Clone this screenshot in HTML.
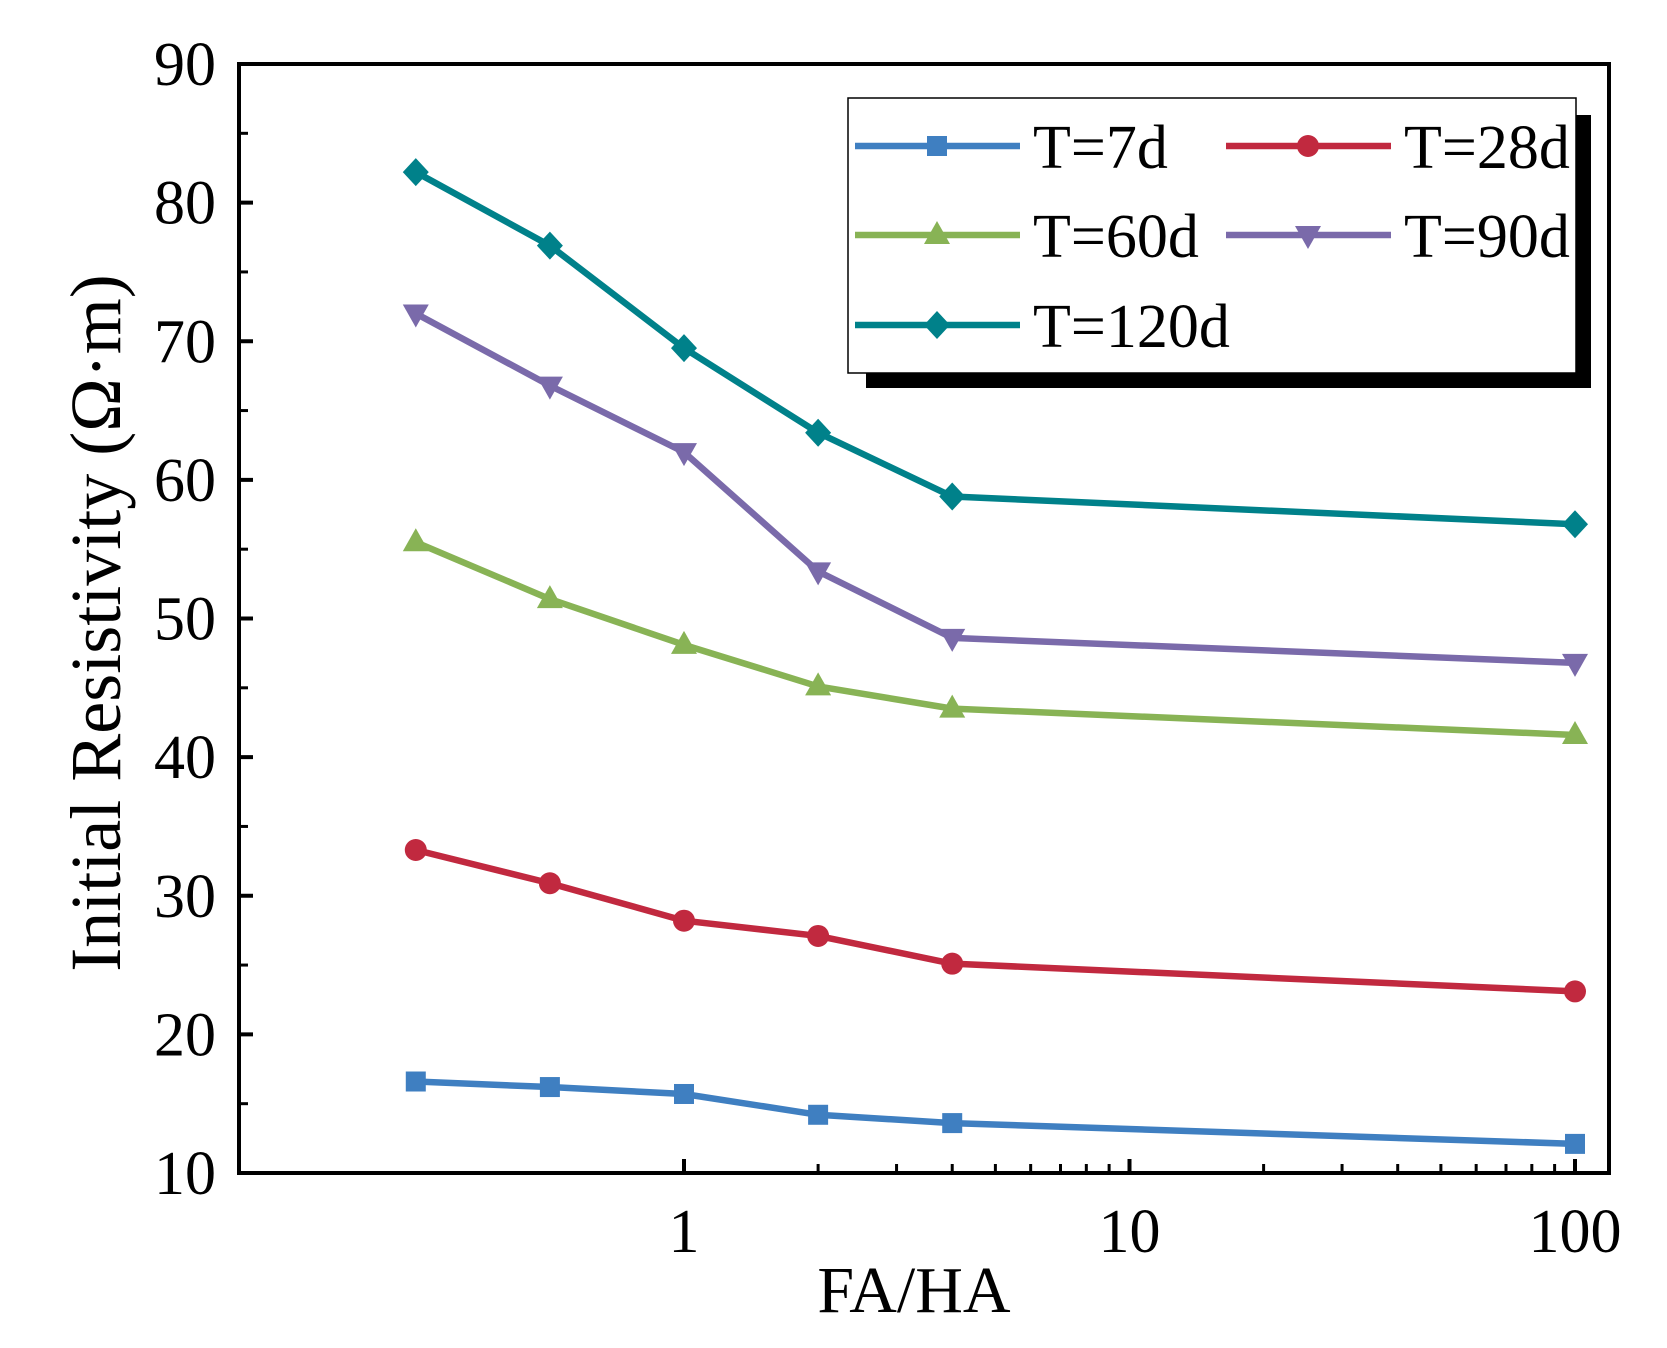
<!DOCTYPE html>
<html><head><meta charset="utf-8"><style>
html,body{margin:0;padding:0;background:#fff;}
svg{display:block;font-family:"Liberation Serif","DejaVu Serif",serif;}
</style></head><body>
<svg id="chart" width="1667" height="1348" viewBox="0 0 1667 1348" xmlns="http://www.w3.org/2000/svg">
<g id="series"></g>
<g id="axes"></g>
<g id="legend"></g>
</svg>
<script>
const categories=[0.25,0.5,1,2,4,100];
const seriesNames=["T=7d","T=28d","T=60d","T=90d","T=120d"];
const s7=[16.6,16.2,15.7,14.2,13.6,12.1];
const s28=[33.3,30.9,28.2,27.1,25.1,23.1];
const s60=[55.5,51.4,48.1,45.1,43.5,41.6];
const s90=[72.0,66.8,62.0,53.4,48.6,46.8];
const s120=[82.2,76.9,69.5,63.4,58.8,56.8];
const yTicks=[10,20,30,40,50,60,70,80,90];
const xTicks=[1,10,100];
const xTickLabels=["1","10","100"];

const NS="http://www.w3.org/2000/svg";
const L=239,R=1609,T=64,B=1173;
function xs(v){return 684+Math.log10(v)*445.5;}
function ys(v){return B-(v-10)/80*(B-T);}
function mk(tag,attrs,parent){const e=document.createElementNS(NS,tag);for(const k in attrs)e.setAttribute(k,attrs[k]);parent.appendChild(e);return e;}
const gS=document.getElementById('series'),gA=document.getElementById('axes'),gL=document.getElementById('legend');
const colors=["#3f7fc1","#c1293f","#88b355","#7a6aaa","#00818a"];
const shapes=["square","circle","tri","tridown","diamond"];
const allData=[s7,s28,s60,s90,s120];
function marker(shape,x,y,c,parent){
  let e;
  if(shape==="square"){e=mk('rect',{x:x-10,y:y-10,width:20,height:20,fill:c},parent);}
  else if(shape==="circle"){e=mk('circle',{cx:x,cy:y,r:11,fill:c},parent);}
  else if(shape==="tri"){e=mk('polygon',{points:`${x},${y-14} ${x+13},${y+9} ${x-13},${y+9}`,fill:c},parent);}
  else if(shape==="tridown"){e=mk('polygon',{points:`${x},${y+14} ${x+13},${y-9} ${x-13},${y-9}`,fill:c},parent);}
  else {e=mk('polygon',{points:`${x},${y-14} ${x+13},${y} ${x},${y+14} ${x-13},${y}`,fill:c},parent);}
  return e;
}
allData.forEach((d,i)=>{
  const g=mk('g',{},gS);
  
  
  const pts=d.map((v,j)=>xs(categories[j])+','+ys(v)).join(' ');
  const pl=mk('polyline',{points:pts,fill:'none',stroke:colors[i],'stroke-width':6.5,'stroke-linejoin':'round'},g);
  
  
  d.forEach((v,j)=>{
    const m=marker(shapes[i],xs(categories[j]),ys(v),colors[i],g);
    
    
  });
});
const fr=mk('rect',{x:L,y:T,width:R-L,height:B-T,fill:'none',stroke:'#000','stroke-width':4},gA);


yTicks.forEach(v=>{
  const y=ys(v);
  mk('line',{x1:L,x2:L+14,y1:y,y2:y,stroke:'#000','stroke-width':4},gA);
  if(v<90)mk('line',{x1:L,x2:L+9,y1:ys(v+5),y2:ys(v+5),stroke:'#000','stroke-width':3},gA);
  const t=mk('text',{x:216,y:y+21,'text-anchor':'end','font-size':62},gA);
  t.textContent=v;
  
  
});
[1,10,100].forEach(dec=>{
  for(let k=1;k<10;k++){
    const v=dec*k; const x=xs(v);
    if(x>R-2)continue;
    const major=(k===1);
    mk('line',{x1:x,x2:x,y1:B,y2:B-(major?14:9),stroke:'#000','stroke-width':major?4:3},gA);
  }
});
xTicks.forEach((v,i)=>{
  const t=mk('text',{x:xs(v),y:1252,'text-anchor':'middle','font-size':62},gA);
  t.textContent=xTickLabels[i];
  
  
});
const xt=mk('text',{x:914,y:1312,'text-anchor':'middle','font-size':66},gA);
xt.textContent="FA/HA";


const yt=mk('text',{x:0,y:0,'text-anchor':'middle','font-size':72,transform:'translate(120,623) rotate(-90)'},gA);
yt.textContent="Initial Resistivity (Ω·m)";


mk('rect',{x:866,y:115,width:725,height:273,fill:'#000'},gL);
mk('rect',{x:848,y:98,width:728,height:275,fill:'#fff',stroke:'#000','stroke-width':1.5},gL);
const lpos=[[855,146],[1226,146],[855,235],[1226,235],[855,325]];
seriesNames.forEach((n,i)=>{
  const [x,y]=lpos[i];
  const g=mk('g',{},gL);
  
  
  mk('line',{x1:x,x2:x+165,y1:y,y2:y,stroke:colors[i],'stroke-width':6.5},g);
  marker(shapes[i],x+82,y,colors[i],g);
  const t=mk('text',{x:x+178,y:y+22,'font-size':62},g);
  t.textContent=n;
});
</script>
</body></html>
